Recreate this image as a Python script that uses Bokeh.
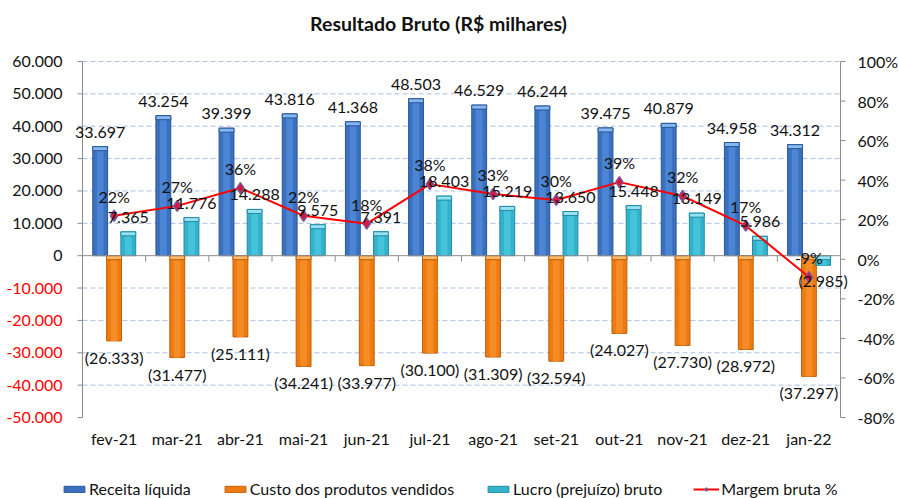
from bokeh.plotting import figure
from bokeh.models import (Range1d, LabelSet, Label, Legend, LegendItem, ColumnDataSource)
from bokeh.core.properties import value
from bokeh.embed import file_html
from bokeh.resources import INLINE

# ---------------- data ----------------
months = ["fev-21", "mar-21", "abr-21", "mai-21", "jun-21", "jul-21",
          "ago-21", "set-21", "out-21", "nov-21", "dez-21", "jan-22"]
receita = [33697, 43254, 39399, 43816, 41368, 48503, 46529, 46244, 39475, 40879, 34958, 34312]
custo = [-26333, -31477, -25111, -34241, -33977, -30100, -31309, -32594, -24027, -27730, -28972, -37297]
lucro = [7365, 11776, 14288, 9575, 7391, 18403, 15219, 13650, 15448, 13149, 5986, -2985]
margem = [22, 27, 36, 22, 18, 38, 33, 30, 39, 32, 17, -9]
left_ticks = [60000, 50000, 40000, 30000, 20000, 10000, 0, -10000, -20000, -30000, -40000, -50000]
right_ticks = [100, 80, 60, 40, 20, 0, -20, -40, -60, -80]

series_names = ["Receita líquida", "Custo dos produtos vendidos", "Lucro (prejuízo) bruto", "Margem bruta %"]
title_text = "Resultado Bruto (R$ milhares)"


def fmt(v):
    s = f"{abs(v):,}".replace(",", ".")
    return f"({s})" if v < 0 else s


def tick_fmt(v):
    s = f"{abs(v):,}".replace(",", ".")
    return f"-{s}" if v < 0 else s


FONT = "Lato"
FS = "16px"
TXT = "#111111"
AXC = "#8C8C8C"

# ---------------- layout (pixels) ----------------
WIDTH, HEIGHT = 898, 498
PL, PR, PT, PB = 82, 840, 61, 417          # plot area edges
N = len(months)
Y0, Y1 = min(left_ticks), max(left_ticks)
P0, P1 = min(right_ticks), max(right_ticks)
cat_px = (PR - PL) / N
ky = (Y1 - Y0) / (PB - PT)                   # value units per pixel
kp = (P1 - P0) / (PB - PT)                   # percent units per pixel

p = figure(width=WIDTH, height=HEIGHT,
           x_range=Range1d(-PL / cat_px, N + (WIDTH - PR) / cat_px),
           y_range=Range1d(Y0 - (HEIGHT - PB) * ky, Y1 + PT * ky),
           x_axis_type=None, y_axis_type=None, output_backend="svg",
           toolbar_location=None, min_border=0)
p.extra_y_ranges = {"pct": Range1d(P0 - (HEIGHT - PB) * kp, P1 + PT * kp)}
p.outline_line_color = None
p.grid.visible = False
p.background_fill_color = "white"
p.border_fill_color = "white"

xc = [i + 0.5 for i in range(N)]   # category centres

# ---------------- grid ----------------
grid_ticks = [t for t in left_ticks if t not in (0, Y0)]
p.segment(x0=[0] * len(grid_ticks), x1=[N] * len(grid_ticks), y0=grid_ticks, y1=grid_ticks,
          line_color="#A9BFE4", line_dash="5 3", line_width=1)

# ---------------- bars ----------------
CAP = 4 * ky
BW = 0.235
OFF = {"receita": -0.22, "custo": 0.0, "lucro": 0.225}
STY = {
    "receita": ("#3B70BF", "#2A5699", "#4C85D3", "#86B7EE"),
    "custo": ("#EE7A12", "#C05F08", "#F58C26", "#FBB866"),
    "lucro": ("#34B2CB", "#1F8CA3", "#45C3DA", "#96E2F0"),
}
vals = {"receita": receita, "custo": custo, "lucro": lucro}
bar_r = []
for key in ["receita", "custo", "lucro"]:
    body, edge, inner, cap = STY[key]
    v = vals[key]
    xs = [c + OFF[key] for c in xc]
    ctop = [max(a, 0) for a in v]
    src = ColumnDataSource(dict(x=xs, top=v, ctop=ctop, cbot=[t - CAP for t in ctop]))
    r1 = p.vbar(x="x", top="top", bottom=0, width=BW, source=src, fill_color=body,
                line_color=edge, line_width=1)
    p.vbar(x="x", top="top", bottom=0, width=BW * 0.45, source=src, fill_color=inner,
           line_color=None)
    p.vbar(x="x", top="ctop", bottom="cbot", width=BW, source=src, fill_color=cap,
           line_color=edge, line_width=1)
    bar_r.append(r1)

# ---------------- axes (drawn) ----------------
# zero line and category ticks
p.segment(x0=[0], x1=[N], y0=[0], y1=[0], line_color=AXC, line_width=1)
bounds = list(range(N + 1))
p.segment(x0=bounds, x1=bounds, y0=[0] * len(bounds), y1=[-6 * ky] * len(bounds),
          line_color=AXC, line_width=1)
# left value axis
p.segment(x0=[0], x1=[0], y0=[Y0], y1=[Y1], line_color=AXC, line_width=1)
p.segment(x0=[0] * len(left_ticks), x1=[-5 / cat_px] * len(left_ticks), y0=left_ticks,
          y1=left_ticks, line_color=AXC, line_width=1)
p.text(x=[0] * len(left_ticks), y=left_ticks, text=[tick_fmt(t) for t in left_ticks],
       text_color=["#FF0000" if t < 0 else TXT for t in left_ticks],
       text_align="right", text_baseline="middle", x_offset=-20,
       text_font=value(FONT), text_font_size=value(FS))
# right percent axis
p.segment(x0=[N], x1=[N], y0=[P0], y1=[P1], line_color=AXC, line_width=1, y_range_name="pct")
p.segment(x0=[N] * len(right_ticks), x1=[N + 5 / cat_px] * len(right_ticks), y0=right_ticks,
          y1=right_ticks, line_color=AXC, line_width=1, y_range_name="pct")
p.text(x=[N] * len(right_ticks), y=right_ticks, text=[f"{t}%" for t in right_ticks],
       y_range_name="pct", text_color=TXT, text_align="left", text_baseline="middle",
       x_offset=17, text_font=value(FONT), text_font_size=value(FS))
# category labels
p.text(x=xc, y=[Y0 - 11 * ky] * N, text=months, text_color=TXT, text_align="center",
       text_baseline="top", text_font=value(FONT), text_font_size=value(FS))

# ---------------- margin line ----------------
msrc = ColumnDataSource(dict(x=xc, y=margem, t=[f"{v}%" for v in margem]))
ln = p.line(x="x", y="y", source=msrc, y_range_name="pct", line_color="#FF0000", line_width=2)
sc = p.scatter(x="x", y="y", source=msrc, y_range_name="pct", marker="diamond", size=11,
               fill_color="#E3123A", line_color="#7A5499", line_width=1.5)

# ---------------- data labels ----------------
common = dict(text_font=value(FONT), text_font_size=value(FS), text_color=TXT, text_align="center")


def labels(xs, ys, texts, baseline, yoff, **kw):
    s = ColumnDataSource(dict(x=xs, y=ys, t=texts))
    p.add_layout(LabelSet(x="x", y="y", text="t", source=s, text_baseline=baseline,
                          y_offset=yoff, **common, **kw))


labels([c + OFF["receita"] for c in xc], receita, [fmt(v) for v in receita], "alphabetic", 9)
labels([c + OFF["custo"] for c in xc], custo, [fmt(v) for v in custo], "top", -7)
pos = [i for i, v in enumerate(lucro) if v >= 0]
neg = [i for i, v in enumerate(lucro) if v < 0]
labels([xc[i] + OFF["lucro"] for i in pos], [lucro[i] for i in pos], [fmt(lucro[i]) for i in pos],
       "alphabetic", 9)
labels([xc[i] + OFF["lucro"] for i in neg], [lucro[i] for i in neg], [fmt(lucro[i]) for i in neg],
       "top", -6)
labels(xc, margem, [f"{v}%" for v in margem], "alphabetic", 13, y_range_name="pct")

# ---------------- title ----------------
p.add_layout(Label(x=438, y=HEIGHT - 23, x_units="screen", y_units="screen", text=title_text,
                   text_align="center", text_baseline="middle", text_font=FONT,
                   text_font_style="bold", text_font_size="19.5px", text_color=TXT))

# ---------------- legend ----------------
legend = Legend(items=[LegendItem(label=series_names[0], renderers=[bar_r[0]]),
                       LegendItem(label=series_names[1], renderers=[bar_r[1]]),
                       LegendItem(label=series_names[2], renderers=[bar_r[2]]),
                       LegendItem(label=series_names[3], renderers=[ln, sc])],
                orientation="horizontal", location=(61, 0), padding=0, margin=0,
                spacing=31, label_standoff=2, glyph_width=26, glyph_height=8,
                label_height=18, label_text_font=FONT, label_text_font_size=FS,
                label_text_color=TXT, border_line_color=None, background_fill_alpha=0)
p.add_layout(legend, "center")

open("out.html", "w").write(file_html(p, INLINE))
